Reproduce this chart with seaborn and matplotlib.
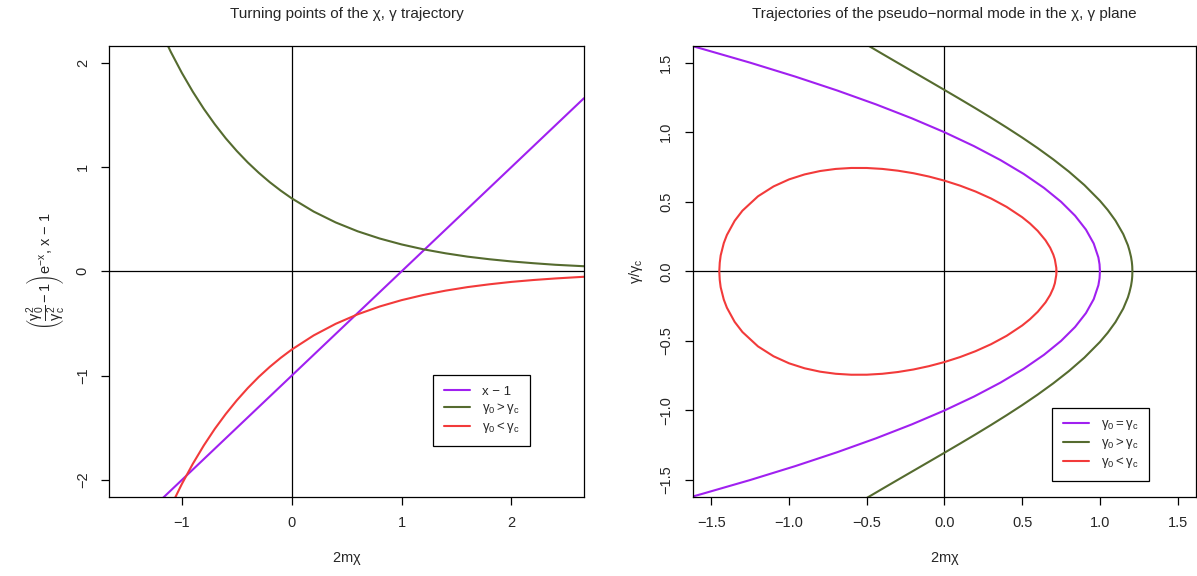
import matplotlib
matplotlib.use("Agg")
import matplotlib.pyplot as plt
import numpy as np
import seaborn as sns

# colours picked to match the R palette of the reference
PURPLE = "#A020F0"
GREEN = "#556B2F"
RED = "#F23A3A"

# ---- left panel: turning points ----
line_x = [-1.66, 2.66]
line_y = [-2.66, 1.66]

turn_x = [-1.2, -1.1, -1.0, -0.9, -0.8, -0.7, -0.6, -0.5, -0.4, -0.3, -0.2, -0.1,
          0.0, 0.2, 0.4, 0.6, 0.8, 1.0, 1.2, 1.4, 1.6, 1.8, 2.0, 2.2, 2.4, 2.66]
above_y = [2.324, 2.103, 1.903, 1.722, 1.558, 1.410, 1.275, 1.154, 1.044, 0.945,
           0.855, 0.774, 0.700, 0.573, 0.469, 0.384, 0.315, 0.258, 0.211, 0.173,
           0.141, 0.116, 0.095, 0.078, 0.063, 0.049]
below_y = [-2.490, -2.253, -2.039, -1.845, -1.669, -1.510, -1.367, -1.237, -1.119,
           -1.012, -0.916, -0.829, -0.750, -0.614, -0.503, -0.412, -0.337, -0.276,
           -0.226, -0.185, -0.151, -0.124, -0.101, -0.083, -0.068, -0.052]

# ---- right panel: trajectories (upper branches, mirrored for gamma < 0) ----
equal_y = [0.0, 0.05, 0.1, 0.2, 0.3, 0.4, 0.5, 0.6, 0.7, 0.8, 0.9, 1.0, 1.1, 1.2,
           1.3, 1.4, 1.5, 1.6, 1.62]
equal_x = [1.0, 0.9975, 0.99, 0.96, 0.91, 0.84, 0.75, 0.64, 0.51, 0.36, 0.19, 0.0,
           -0.21, -0.44, -0.69, -0.96, -1.25, -1.56, -1.624]

big_x = [1.2089, 1.2079, 1.2068, 1.205, 1.2, 1.19, 1.18, 1.15, 1.1, 1.05, 1.0, 0.9,
         0.8, 0.7, 0.6, 0.5, 0.4, 0.3, 0.2, 0.1, 0.0, -0.1, -0.2, -0.3, -0.4, -0.5]
big_y = [0.0, 0.035, 0.05, 0.0693, 0.1040, 0.150, 0.1874, 0.2676, 0.3647, 0.4415,
         0.5075, 0.6202, 0.7173, 0.8047, 0.8856, 0.9616, 1.0340, 1.1039, 1.1718,
         1.2383, 1.3038, 1.3688, 1.4335, 1.4983, 1.5634, 1.6291]

small_x = [0.7202, 0.7193, 0.71, 0.70, 0.68, 0.65, 0.60, 0.55, 0.50, 0.40, 0.30, 0.20,
           0.10, 0.0, -0.1, -0.2, -0.3, -0.4, -0.5, -0.6, -0.7, -0.8, -0.9, -1.0,
           -1.1, -1.2, -1.3, -1.35, -1.40, -1.42, -1.44, -1.446, -1.449]
small_y = [0.0, 0.025, 0.0854, 0.1204, 0.1694, 0.2232, 0.2905, 0.3439, 0.3890,
           0.4632, 0.5235, 0.5738, 0.6162, 0.6519, 0.6815, 0.7055, 0.7237, 0.7364,
           0.7430, 0.7432, 0.7363, 0.7213, 0.6969, 0.6611, 0.6104, 0.5394, 0.4361,
           0.3633, 0.2613, 0.2030, 0.1145, 0.062, 0.0]


def mirror(xs, ys):
    # upper branch from the tip outwards -> whole curve from bottom to top
    xs = np.asarray(xs)
    ys = np.asarray(ys)
    return np.concatenate([xs[::-1], xs[1:]]), np.concatenate([-ys[::-1], ys[1:]])


def loop(xs, ys):
    xs = np.asarray(xs)
    ys = np.asarray(ys)
    return np.concatenate([xs, xs[::-1][1:]]), np.concatenate([ys, -ys[::-1][1:]])


sns.set_theme(style="ticks")
plt.rcParams["font.family"] = ["Liberation Sans", "DejaVu Sans"]
plt.rcParams["mathtext.fontset"] = "custom"
plt.rcParams["mathtext.rm"] = "Liberation Sans"
plt.rcParams["mathtext.it"] = "Liberation Sans"
plt.rcParams["mathtext.default"] = "regular"

W, H = 1197, 576
fig = plt.figure(figsize=(W / 100, H / 100), dpi=100)
ax1 = fig.add_axes([109.3 / W, (H - 497) / H, (584 - 109.3) / W, (497 - 45.7) / H])
ax2 = fig.add_axes([692.7 / W, (H - 496.7) / H, (1196.3 - 692.7) / W, (496.7 - 46) / H])

for ax in (ax1, ax2):
    ax.axhline(0, color="black", lw=0.9, zorder=1)
    ax.axvline(0, color="black", lw=0.9, zorder=1)

lw = 1.5
sns.lineplot(x=line_x, y=line_y, ax=ax1, color=PURPLE, lw=lw, label="x − 1")
sns.lineplot(x=turn_x, y=above_y, ax=ax1, color=GREEN, lw=lw,
             label=r"$\gamma_0 > \gamma_c$")
sns.lineplot(x=turn_x, y=below_y, ax=ax1, color=RED, lw=lw,
             label=r"$\gamma_0 < \gamma_c$")

ex, ey = mirror(equal_x, equal_y)
bx, by = mirror(big_x, big_y)
sx, sy = loop(small_x, small_y)
sns.lineplot(x=ex, y=ey, ax=ax2, color=PURPLE, lw=lw, sort=False, estimator=None,
             label=r"$\gamma_0 = \gamma_c$")
sns.lineplot(x=bx, y=by, ax=ax2, color=GREEN, lw=lw, sort=False, estimator=None,
             label=r"$\gamma_0 > \gamma_c$")
sns.lineplot(x=sx, y=sy, ax=ax2, color=RED, lw=lw, sort=False, estimator=None,
             label=r"$\gamma_0 < \gamma_c$")

ax1.set_xlim(-1.66, 2.66)
ax1.set_ylim(-2.163, 2.163)
ax1.set_xticks([-1, 0, 1, 2])
ax1.set_yticks([-2, -1, 0, 1, 2])
ax2.set_xlim(-1.62, 1.62)
ax2.set_ylim(-1.62, 1.62)
ax2.set_xticks([-1.5, -1.0, -0.5, 0.0, 0.5, 1.0, 1.5])
ax2.set_yticks([-1.5, -1.0, -0.5, 0.0, 0.5, 1.0, 1.5])
ax2.set_xticklabels(["−1.5", "−1.0", "−0.5", "0.0", "0.5", "1.0", "1.5"])
ax2.set_yticklabels(["−1.5", "−1.0", "−0.5", "0.0", "0.5", "1.0", "1.5"])

fs = 10.5
for ax in (ax1, ax2):
    for s in ax.spines.values():
        s.set_visible(True)
        s.set_color("black")
        s.set_linewidth(0.9)
    ax.tick_params(direction="out", length=6, width=0.9, color="black",
                   labelsize=fs, pad=8)
    for t in ax.get_yticklabels():
        t.set_rotation(90)
        t.set_va("center")
    ax.set_xlabel(r"$2m\chi$", fontsize=fs, labelpad=14)
    ax.set_facecolor("white")

ax1.set_ylabel(r"$\left(\dfrac{\gamma_0^2}{\gamma_c^2} - 1\right)e^{-x}$, x − 1",
               fontsize=fs, labelpad=6)
ax2.set_ylabel(r"$\gamma/\gamma_c$", fontsize=fs, labelpad=10)

ax1.set_title("Turning points of the χ, γ trajectory", fontsize=11, pad=20)
ax2.set_title("Trajectories of the pseudo−normal mode in the χ, γ plane",
              fontsize=11, pad=20)

leg_kw = dict(frameon=True, fancybox=False, edgecolor="black", fontsize=9.5,
              handlelength=2.0, borderpad=0.8, labelspacing=0.3, handletextpad=0.9,
              borderaxespad=0, framealpha=1)
lg1 = ax1.legend(loc="lower right", bbox_to_anchor=(0.886, 0.113), **leg_kw)
lg2 = ax2.legend(loc="lower right", bbox_to_anchor=(0.906, 0.035), **leg_kw)
for lg in (lg1, lg2):
    lg.get_frame().set_linewidth(0.9)

fig.savefig("out.png", dpi=100, facecolor="white")
